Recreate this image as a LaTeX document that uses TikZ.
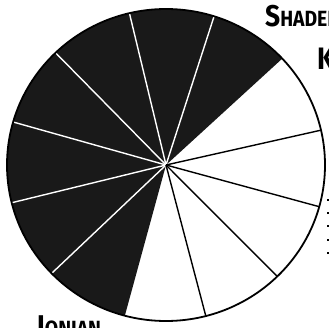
\documentclass[tikz,border=0pt]{standalone}
\usepackage{fontspec}
\setmainfont{Fira Sans}
\begin{document}
\begin{tikzpicture}[x=1pt,y=1pt,
  rim/.style={draw=black,line width=1.8pt},
  darkspoke/.style={draw=white,line width=1.4pt},
  lightspoke/.style={draw=black,line width=1.4pt},
  label/.style={inner sep=0pt,font=\bfseries,xscale=0.88,text=black},
  tick/.style={fill=black}]
\useasboundingbox (0,0) rectangle (329,327);
\coordinate (c) at (166,162);
% white disc
\fill[white] (c) ellipse [x radius=159, y radius=156];
% black sector from 43 to 255 degrees
\fill[black!90] (c) -- ++(43:159 and 156) arc [start angle=43, end angle=255, x radius=159, y radius=156] -- cycle;
% spokes in the dark part
\foreach \a in {72.4,103.3,134,164,194,224}
  \draw[darkspoke] (c) -- ++(\a:159 and 156);
% spokes in the light part
\foreach \a in {12.9,-15.5,-45.6,-75.5}
  \draw[lightspoke] (c) -- ++(\a:159 and 156);
% rim
\draw[rim] (c) ellipse [x radius=159, y radius=156];
% texts
\node[label,anchor=base west] (t1) at (265,300) {\fontsize{30}{30}\selectfont S\fontsize{22}{22}\selectfont HADED};
\node[label,anchor=base west] (t2) at (317,257) {\fontsize{31}{31}\selectfont K};
\node[label,anchor=base west] (t3) at (37,-9) {\fontsize{30}{30}\selectfont I\fontsize{22}{22}\selectfont ONIAN};
% small marks at the right edge
\foreach \y in {200,213,226,240,253}
  \fill[tick] (326.5,327-\y-1) rectangle (329,327-\y+1);
\end{tikzpicture}
\end{document}
